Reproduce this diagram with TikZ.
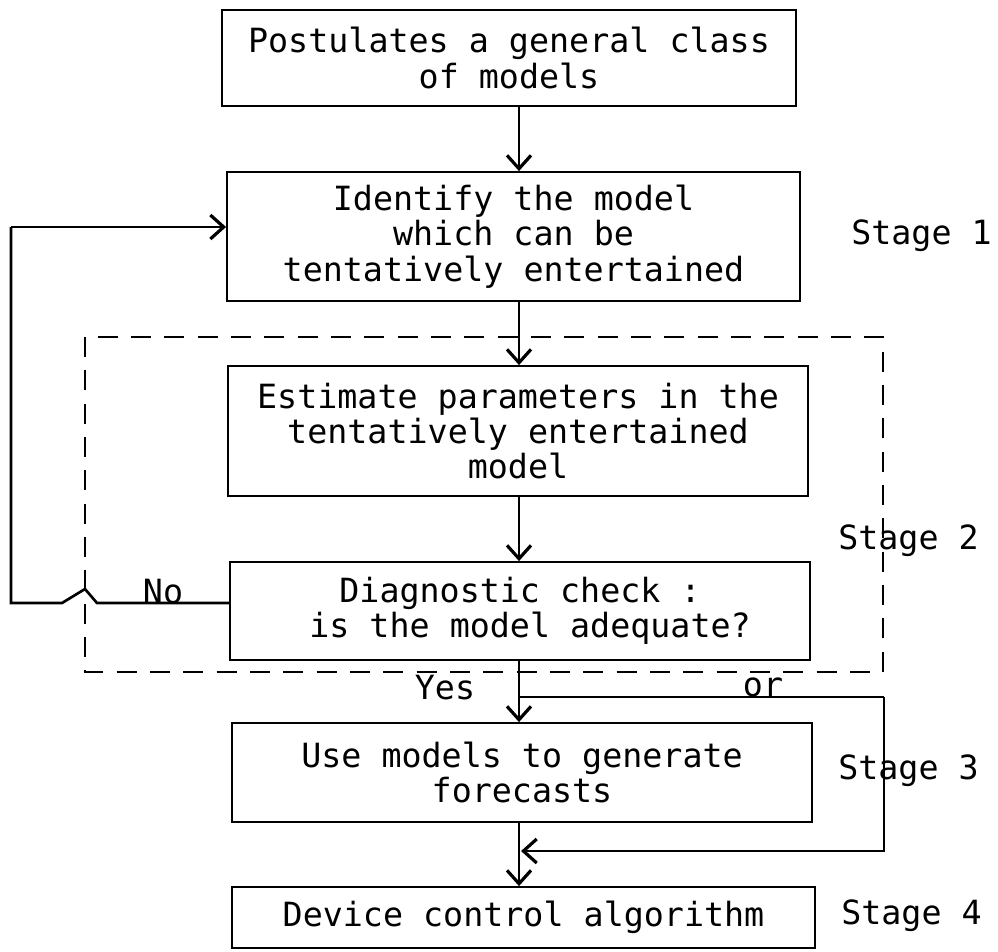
\documentclass[tikz,border=0pt]{standalone}
\usepackage{fontspec}
\setmonofont{DejaVu Sans Mono}
\usetikzlibrary{arrows.meta}
\begin{document}
\begin{tikzpicture}[x=0.75pt,y=-0.75pt,
  font=\ttfamily\fontsize{25}{26.5}\selectfont,
  stepbox/.style={draw,line width=1.4pt,align=center,inner sep=0pt},
  flow/.style={line width=1pt},
  tip/.style={-{Straight Barb[length=10pt,width=18pt,line width=2.4pt]}},
  loopline/.style={line width=2pt},
  stagebox/.style={draw,line width=2pt,dash pattern=on 15pt off 10pt},
  lbl/.style={inner sep=0pt}]
\useasboundingbox (0,0) rectangle (998,951);

% process boxes
\node[stepbox,minimum width={574*0.75pt},minimum height={96*0.75pt}] (b1) at (509,58)
  {Postulates a general class\\of models};
\node[stepbox,minimum width={573*0.75pt},minimum height={129*0.75pt}] (b2) at (513.5,236.5)
  {Identify the model\\which can be\\tentatively entertained};
\node[stepbox,minimum width={580*0.75pt},minimum height={130*0.75pt}] (b3) at (518,431)
  {Estimate parameters in the\\tentatively entertained\\model};
\node[stepbox,minimum width={580*0.75pt},minimum height={98*0.75pt}] (b4) at (520,611)
  {Diagnostic check :\\\ is the model adequate?};
\node[stepbox,minimum width={580*0.75pt},minimum height={99*0.75pt}] (b5) at (522,772.5)
  {Use models to generate\\forecasts};
\node[stepbox,minimum width={583*0.75pt},minimum height={61*0.75pt}] (b6) at (523.5,917.5)
  {Device control algorithm};

% stage labels
\node[lbl,anchor=west] (s1) at (851,236) {Stage 1};
\node[lbl,anchor=west] (s2) at (838,541) {Stage 2};
\node[lbl,anchor=west] (s3) at (838,771) {Stage 3};
\node[lbl,anchor=west] (s4) at (841,916) {Stage 4};

% dashed frame around estimation and checking
\draw[stagebox] (85,337) rectangle (883,672);

% main spine
\coordinate (spine) at (519,0);
\draw[flow,tip] (spine |- b1.south) -- (spine |- b2.north);
\draw[flow,tip] (spine |- b2.south) -- (spine |- b3.north);
\draw[flow,tip] (spine |- b3.south) -- (spine |- b4.north);
\draw[flow,tip] (spine |- b4.south) -- (spine |- b5.north);
\draw[flow,tip] (spine |- b5.south) -- (spine |- b6.north);

% alternative route bypassing forecasting
\coordinate (orA) at (519,697);
\coordinate (orB) at (884,697);
\coordinate (orC) at (884,851);
\coordinate (orD) at (521,851);
\draw[flow] (orA) -- (orB);
\draw[loopline,tip] (orB) -- (orC) -- (orD);
\node[lbl,anchor=south] (orlbl) at (763,697) {or};
\node[lbl] (yes) at (445,688) {Yes};

% feedback loop when the model is not adequate
\coordinate (fbA) at (b4.west |- 0,603);
\coordinate (hopR) at (97,603);
\coordinate (hopT) at (85,589);
\coordinate (hopL) at (62,603);
\coordinate (fbB) at (11,603);
\coordinate (fbC) at (11,227);
\coordinate (fbD) at (b2.west |- 0,227);
\draw[loopline] (fbA) -- (hopR) -- (hopT) -- (hopL) -- (fbB) -- (fbC);
\draw[loopline,tip] (fbC) -- (fbD);
\node[lbl] (no) at (163,592) {No};
\end{tikzpicture}
\end{document}
